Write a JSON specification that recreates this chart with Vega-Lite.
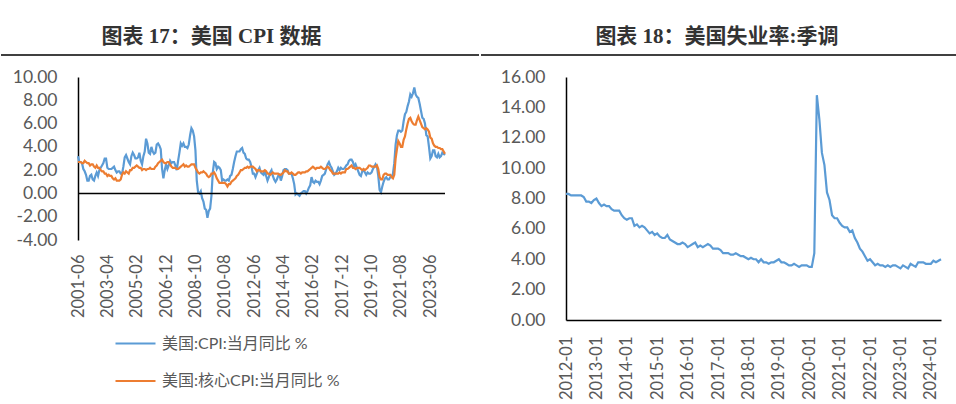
{
  "$schema": "https://vega.github.io/schema/vega-lite/v6.json",
  "padding": {"left": 0, "top": 26, "right": 0, "bottom": 0},
  "background": "white",
  "config": {
    "view": {"stroke": null},
    "font": "Lato",
    "axis": {"labelFont": "Lato", "labelFontSize": 16.5, "labelColor": "#595959", "grid": false, "ticks": false, "title": null, "domainColor": "#000000", "domainWidth": 1.5, "labelOverlap": false},
    "title": {"font": "Liberation Serif, Noto Sans CJK SC", "fontSize": 21, "fontWeight": "bold", "color": "#333333", "offset": 7}
  },
  "datasets": {
    "cpi": [
      {"d":"2001-06","a":3.2,"b":2.7},{"d":"2001-07","a":2.7,"b":2.7},{"d":"2001-08","a":2.7,"b":2.7},{"d":"2001-09","a":2.6,"b":2.6},{"d":"2001-10","a":2.1,"b":2.6},{"d":"2001-11","a":1.9,"b":2.8},{"d":"2001-12","a":1.6,"b":2.7},
      {"d":"2002-01","a":1.1,"b":2.6},{"d":"2002-02","a":1.1,"b":2.6},{"d":"2002-03","a":1.5,"b":2.4},{"d":"2002-04","a":1.6,"b":2.5},{"d":"2002-05","a":1.2,"b":2.5},{"d":"2002-06","a":1.1,"b":2.3},{"d":"2002-07","a":1.5,"b":2.2},{"d":"2002-08","a":1.8,"b":2.4},{"d":"2002-09","a":1.5,"b":2.2},{"d":"2002-10","a":2.0,"b":2.2},{"d":"2002-11","a":2.2,"b":2.0},{"d":"2002-12","a":2.4,"b":1.9},
      {"d":"2003-01","a":2.6,"b":1.9},{"d":"2003-02","a":3.0,"b":1.7},{"d":"2003-03","a":3.0,"b":1.7},{"d":"2003-04","a":2.2,"b":1.5},{"d":"2003-05","a":2.1,"b":1.6},{"d":"2003-06","a":2.1,"b":1.5},{"d":"2003-07","a":2.1,"b":1.5},{"d":"2003-08","a":2.2,"b":1.3},{"d":"2003-09","a":2.3,"b":1.2},{"d":"2003-10","a":2.0,"b":1.3},{"d":"2003-11","a":1.8,"b":1.1},{"d":"2003-12","a":1.9,"b":1.1},
      {"d":"2004-01","a":1.9,"b":1.1},{"d":"2004-02","a":1.7,"b":1.2},{"d":"2004-03","a":1.7,"b":1.6},{"d":"2004-04","a":2.3,"b":1.8},{"d":"2004-05","a":3.1,"b":1.7},{"d":"2004-06","a":3.3,"b":1.9},{"d":"2004-07","a":3.0,"b":1.8},{"d":"2004-08","a":2.7,"b":1.7},{"d":"2004-09","a":2.5,"b":2.0},{"d":"2004-10","a":3.2,"b":2.0},{"d":"2004-11","a":3.5,"b":2.2},{"d":"2004-12","a":3.3,"b":2.2},
      {"d":"2005-01","a":3.0,"b":2.3},{"d":"2005-02","a":3.0,"b":2.4},{"d":"2005-03","a":3.1,"b":2.3},{"d":"2005-04","a":3.5,"b":2.2},{"d":"2005-05","a":2.8,"b":2.2},{"d":"2005-06","a":2.5,"b":2.0},{"d":"2005-07","a":3.2,"b":2.1},{"d":"2005-08","a":3.6,"b":2.1},{"d":"2005-09","a":4.7,"b":2.0},{"d":"2005-10","a":4.3,"b":2.1},{"d":"2005-11","a":3.5,"b":2.1},{"d":"2005-12","a":3.4,"b":2.2},
      {"d":"2006-01","a":4.0,"b":2.1},{"d":"2006-02","a":3.6,"b":2.1},{"d":"2006-03","a":3.4,"b":2.1},{"d":"2006-04","a":3.5,"b":2.3},{"d":"2006-05","a":4.2,"b":2.4},{"d":"2006-06","a":4.3,"b":2.6},{"d":"2006-07","a":4.1,"b":2.7},{"d":"2006-08","a":3.8,"b":2.8},{"d":"2006-09","a":2.1,"b":2.9},{"d":"2006-10","a":1.3,"b":2.7},{"d":"2006-11","a":2.0,"b":2.6},{"d":"2006-12","a":2.5,"b":2.6},
      {"d":"2007-01","a":2.1,"b":2.7},{"d":"2007-02","a":2.4,"b":2.7},{"d":"2007-03","a":2.8,"b":2.5},{"d":"2007-04","a":2.6,"b":2.3},{"d":"2007-05","a":2.7,"b":2.2},{"d":"2007-06","a":2.7,"b":2.2},{"d":"2007-07","a":2.4,"b":2.2},{"d":"2007-08","a":2.0,"b":2.1},{"d":"2007-09","a":2.8,"b":2.1},{"d":"2007-10","a":3.5,"b":2.2},{"d":"2007-11","a":4.3,"b":2.3},{"d":"2007-12","a":4.1,"b":2.4},
      {"d":"2008-01","a":4.3,"b":2.5},{"d":"2008-02","a":4.0,"b":2.3},{"d":"2008-03","a":4.0,"b":2.4},{"d":"2008-04","a":3.9,"b":2.3},{"d":"2008-05","a":4.2,"b":2.3},{"d":"2008-06","a":5.0,"b":2.4},{"d":"2008-07","a":5.6,"b":2.5},{"d":"2008-08","a":5.4,"b":2.5},{"d":"2008-09","a":4.9,"b":2.5},{"d":"2008-10","a":3.7,"b":2.2},{"d":"2008-11","a":1.1,"b":2.0},{"d":"2008-12","a":0.1,"b":1.8},
      {"d":"2009-01","a":0.0,"b":1.7},{"d":"2009-02","a":0.2,"b":1.8},{"d":"2009-03","a":-0.4,"b":1.8},{"d":"2009-04","a":-0.7,"b":1.9},{"d":"2009-05","a":-1.3,"b":1.8},{"d":"2009-06","a":-1.4,"b":1.7},{"d":"2009-07","a":-2.1,"b":1.5},{"d":"2009-08","a":-1.5,"b":1.4},{"d":"2009-09","a":-1.3,"b":1.5},{"d":"2009-10","a":-0.2,"b":1.7},{"d":"2009-11","a":1.8,"b":1.7},{"d":"2009-12","a":2.7,"b":1.8},
      {"d":"2010-01","a":2.6,"b":1.6},{"d":"2010-02","a":2.1,"b":1.3},{"d":"2010-03","a":2.3,"b":1.1},{"d":"2010-04","a":2.2,"b":0.9},{"d":"2010-05","a":2.0,"b":0.9},{"d":"2010-06","a":1.1,"b":0.9},{"d":"2010-07","a":1.2,"b":0.9},{"d":"2010-08","a":1.1,"b":0.9},{"d":"2010-09","a":1.1,"b":0.8},{"d":"2010-10","a":1.2,"b":0.6},{"d":"2010-11","a":1.1,"b":0.8},{"d":"2010-12","a":1.5,"b":0.8},
      {"d":"2011-01","a":1.6,"b":1.0},{"d":"2011-02","a":2.1,"b":1.1},{"d":"2011-03","a":2.7,"b":1.2},{"d":"2011-04","a":3.2,"b":1.3},{"d":"2011-05","a":3.6,"b":1.5},{"d":"2011-06","a":3.6,"b":1.6},{"d":"2011-07","a":3.6,"b":1.8},{"d":"2011-08","a":3.8,"b":2.0},{"d":"2011-09","a":3.9,"b":2.0},{"d":"2011-10","a":3.5,"b":2.1},{"d":"2011-11","a":3.4,"b":2.2},{"d":"2011-12","a":3.0,"b":2.2},
      {"d":"2012-01","a":2.9,"b":2.3},{"d":"2012-02","a":2.9,"b":2.2},{"d":"2012-03","a":2.7,"b":2.3},{"d":"2012-04","a":2.3,"b":2.3},{"d":"2012-05","a":1.7,"b":2.3},{"d":"2012-06","a":1.7,"b":2.2},{"d":"2012-07","a":1.4,"b":2.1},{"d":"2012-08","a":1.7,"b":1.9},{"d":"2012-09","a":2.0,"b":2.0},{"d":"2012-10","a":2.2,"b":2.0},{"d":"2012-11","a":1.8,"b":1.9},{"d":"2012-12","a":1.7,"b":1.9},
      {"d":"2013-01","a":1.6,"b":1.9},{"d":"2013-02","a":2.0,"b":2.0},{"d":"2013-03","a":1.5,"b":1.9},{"d":"2013-04","a":1.1,"b":1.7},{"d":"2013-05","a":1.4,"b":1.7},{"d":"2013-06","a":1.8,"b":1.6},{"d":"2013-07","a":2.0,"b":1.7},{"d":"2013-08","a":1.5,"b":1.8},{"d":"2013-09","a":1.2,"b":1.7},{"d":"2013-10","a":1.0,"b":1.7},{"d":"2013-11","a":1.2,"b":1.7},{"d":"2013-12","a":1.5,"b":1.7},
      {"d":"2014-01","a":1.6,"b":1.6},{"d":"2014-02","a":1.1,"b":1.6},{"d":"2014-03","a":1.5,"b":1.7},{"d":"2014-04","a":2.0,"b":1.8},{"d":"2014-05","a":2.1,"b":2.0},{"d":"2014-06","a":2.1,"b":1.9},{"d":"2014-07","a":2.0,"b":1.9},{"d":"2014-08","a":1.7,"b":1.7},{"d":"2014-09","a":1.7,"b":1.7},{"d":"2014-10","a":1.7,"b":1.8},{"d":"2014-11","a":1.3,"b":1.7},{"d":"2014-12","a":0.8,"b":1.6},
      {"d":"2015-01","a":-0.1,"b":1.6},{"d":"2015-02","a":0.0,"b":1.7},{"d":"2015-03","a":-0.1,"b":1.8},{"d":"2015-04","a":-0.2,"b":1.8},{"d":"2015-05","a":0.0,"b":1.7},{"d":"2015-06","a":0.1,"b":1.8},{"d":"2015-07","a":0.2,"b":1.8},{"d":"2015-08","a":0.2,"b":1.8},{"d":"2015-09","a":0.0,"b":1.9},{"d":"2015-10","a":0.2,"b":1.9},{"d":"2015-11","a":0.5,"b":2.0},{"d":"2015-12","a":0.7,"b":2.1},
      {"d":"2016-01","a":1.4,"b":2.2},{"d":"2016-02","a":1.0,"b":2.3},{"d":"2016-03","a":0.9,"b":2.2},{"d":"2016-04","a":1.1,"b":2.1},{"d":"2016-05","a":1.0,"b":2.2},{"d":"2016-06","a":1.0,"b":2.2},{"d":"2016-07","a":0.8,"b":2.2},{"d":"2016-08","a":1.1,"b":2.3},{"d":"2016-09","a":1.5,"b":2.2},{"d":"2016-10","a":1.6,"b":2.1},{"d":"2016-11","a":1.7,"b":2.1},{"d":"2016-12","a":2.1,"b":2.2},
      {"d":"2017-01","a":2.5,"b":2.3},{"d":"2017-02","a":2.7,"b":2.2},{"d":"2017-03","a":2.4,"b":2.0},{"d":"2017-04","a":2.2,"b":1.9},{"d":"2017-05","a":1.9,"b":1.7},{"d":"2017-06","a":1.6,"b":1.7},{"d":"2017-07","a":1.7,"b":1.7},{"d":"2017-08","a":1.9,"b":1.7},{"d":"2017-09","a":2.2,"b":1.7},{"d":"2017-10","a":2.0,"b":1.8},{"d":"2017-11","a":2.2,"b":1.7},{"d":"2017-12","a":2.1,"b":1.8},
      {"d":"2018-01","a":2.1,"b":1.8},{"d":"2018-02","a":2.2,"b":1.8},{"d":"2018-03","a":2.4,"b":2.1},{"d":"2018-04","a":2.5,"b":2.1},{"d":"2018-05","a":2.8,"b":2.2},{"d":"2018-06","a":2.9,"b":2.3},{"d":"2018-07","a":2.9,"b":2.4},{"d":"2018-08","a":2.7,"b":2.2},{"d":"2018-09","a":2.3,"b":2.2},{"d":"2018-10","a":2.5,"b":2.1},{"d":"2018-11","a":2.2,"b":2.2},{"d":"2018-12","a":1.9,"b":2.2},
      {"d":"2019-01","a":1.6,"b":2.2},{"d":"2019-02","a":1.5,"b":2.1},{"d":"2019-03","a":1.9,"b":2.0},{"d":"2019-04","a":2.0,"b":2.1},{"d":"2019-05","a":1.8,"b":2.0},{"d":"2019-06","a":1.6,"b":2.1},{"d":"2019-07","a":1.8,"b":2.2},{"d":"2019-08","a":1.7,"b":2.4},{"d":"2019-09","a":1.7,"b":2.4},{"d":"2019-10","a":1.8,"b":2.3},{"d":"2019-11","a":2.1,"b":2.3},{"d":"2019-12","a":2.3,"b":2.3},
      {"d":"2020-01","a":2.5,"b":2.3},{"d":"2020-02","a":2.3,"b":2.4},{"d":"2020-03","a":1.5,"b":2.1},{"d":"2020-04","a":0.3,"b":1.4},{"d":"2020-05","a":0.1,"b":1.2},{"d":"2020-06","a":0.6,"b":1.2},{"d":"2020-07","a":1.0,"b":1.6},{"d":"2020-08","a":1.3,"b":1.7},{"d":"2020-09","a":1.4,"b":1.7},{"d":"2020-10","a":1.2,"b":1.6},{"d":"2020-11","a":1.2,"b":1.6},{"d":"2020-12","a":1.4,"b":1.6},
      {"d":"2021-01","a":1.4,"b":1.4},{"d":"2021-02","a":1.7,"b":1.3},{"d":"2021-03","a":2.6,"b":1.6},{"d":"2021-04","a":4.2,"b":3.0},{"d":"2021-05","a":5.0,"b":3.8},{"d":"2021-06","a":5.4,"b":4.5},{"d":"2021-07","a":5.4,"b":4.3},{"d":"2021-08","a":5.3,"b":4.0},{"d":"2021-09","a":5.4,"b":4.0},{"d":"2021-10","a":6.2,"b":4.6},{"d":"2021-11","a":6.8,"b":4.9},{"d":"2021-12","a":7.0,"b":5.5},
      {"d":"2022-01","a":7.5,"b":6.0},{"d":"2022-02","a":7.9,"b":6.4},{"d":"2022-03","a":8.5,"b":6.5},{"d":"2022-04","a":8.3,"b":6.2},{"d":"2022-05","a":8.6,"b":6.0},{"d":"2022-06","a":9.1,"b":5.9},{"d":"2022-07","a":8.5,"b":5.9},{"d":"2022-08","a":8.3,"b":6.3},{"d":"2022-09","a":8.2,"b":6.6},{"d":"2022-10","a":7.7,"b":6.3},{"d":"2022-11","a":7.1,"b":6.0},{"d":"2022-12","a":6.5,"b":5.7},
      {"d":"2023-01","a":6.4,"b":5.6},{"d":"2023-02","a":6.0,"b":5.5},{"d":"2023-03","a":5.0,"b":5.6},{"d":"2023-04","a":4.9,"b":5.5},{"d":"2023-05","a":4.0,"b":5.3},{"d":"2023-06","a":3.0,"b":4.8},{"d":"2023-07","a":3.2,"b":4.7},{"d":"2023-08","a":3.7,"b":4.3},{"d":"2023-09","a":3.7,"b":4.1},{"d":"2023-10","a":3.2,"b":4.0},{"d":"2023-11","a":3.1,"b":4.0},{"d":"2023-12","a":3.4,"b":3.9},
      {"d":"2024-01","a":3.1,"b":3.9},{"d":"2024-02","a":3.2,"b":3.8},{"d":"2024-03","a":3.5,"b":3.8},{"d":"2024-04","a":3.4,"b":3.6},{"d":"2024-05","a":3.3,"b":3.4}
    ],
    "ur": [
      {"d":"2012-01","u":8.3},{"d":"2012-02","u":8.3},{"d":"2012-03","u":8.2},{"d":"2012-04","u":8.2},{"d":"2012-05","u":8.2},{"d":"2012-06","u":8.2},{"d":"2012-07","u":8.2},{"d":"2012-08","u":8.1},{"d":"2012-09","u":7.8},{"d":"2012-10","u":7.8},{"d":"2012-11","u":7.7},{"d":"2012-12","u":7.9},
      {"d":"2013-01","u":8.0},{"d":"2013-02","u":7.7},{"d":"2013-03","u":7.5},{"d":"2013-04","u":7.6},{"d":"2013-05","u":7.5},{"d":"2013-06","u":7.5},{"d":"2013-07","u":7.3},{"d":"2013-08","u":7.2},{"d":"2013-09","u":7.2},{"d":"2013-10","u":7.2},{"d":"2013-11","u":6.9},{"d":"2013-12","u":6.7},
      {"d":"2014-01","u":6.6},{"d":"2014-02","u":6.7},{"d":"2014-03","u":6.7},{"d":"2014-04","u":6.2},{"d":"2014-05","u":6.3},{"d":"2014-06","u":6.1},{"d":"2014-07","u":6.2},{"d":"2014-08","u":6.1},{"d":"2014-09","u":5.9},{"d":"2014-10","u":5.7},{"d":"2014-11","u":5.8},{"d":"2014-12","u":5.6},
      {"d":"2015-01","u":5.7},{"d":"2015-02","u":5.5},{"d":"2015-03","u":5.4},{"d":"2015-04","u":5.4},{"d":"2015-05","u":5.6},{"d":"2015-06","u":5.3},{"d":"2015-07","u":5.2},{"d":"2015-08","u":5.1},{"d":"2015-09","u":5.0},{"d":"2015-10","u":5.0},{"d":"2015-11","u":5.1},{"d":"2015-12","u":5.0},
      {"d":"2016-01","u":4.8},{"d":"2016-02","u":4.9},{"d":"2016-03","u":5.0},{"d":"2016-04","u":5.1},{"d":"2016-05","u":4.8},{"d":"2016-06","u":4.9},{"d":"2016-07","u":4.8},{"d":"2016-08","u":4.9},{"d":"2016-09","u":5.0},{"d":"2016-10","u":4.9},{"d":"2016-11","u":4.7},{"d":"2016-12","u":4.7},
      {"d":"2017-01","u":4.7},{"d":"2017-02","u":4.6},{"d":"2017-03","u":4.4},{"d":"2017-04","u":4.4},{"d":"2017-05","u":4.4},{"d":"2017-06","u":4.3},{"d":"2017-07","u":4.3},{"d":"2017-08","u":4.4},{"d":"2017-09","u":4.3},{"d":"2017-10","u":4.2},{"d":"2017-11","u":4.2},{"d":"2017-12","u":4.1},
      {"d":"2018-01","u":4.0},{"d":"2018-02","u":4.1},{"d":"2018-03","u":4.0},{"d":"2018-04","u":4.0},{"d":"2018-05","u":3.8},{"d":"2018-06","u":4.0},{"d":"2018-07","u":3.8},{"d":"2018-08","u":3.8},{"d":"2018-09","u":3.7},{"d":"2018-10","u":3.8},{"d":"2018-11","u":3.8},{"d":"2018-12","u":3.9},
      {"d":"2019-01","u":4.0},{"d":"2019-02","u":3.8},{"d":"2019-03","u":3.8},{"d":"2019-04","u":3.7},{"d":"2019-05","u":3.6},{"d":"2019-06","u":3.6},{"d":"2019-07","u":3.7},{"d":"2019-08","u":3.6},{"d":"2019-09","u":3.5},{"d":"2019-10","u":3.6},{"d":"2019-11","u":3.6},{"d":"2019-12","u":3.6},
      {"d":"2020-01","u":3.5},{"d":"2020-02","u":3.5},{"d":"2020-03","u":4.4},{"d":"2020-04","u":14.8},{"d":"2020-05","u":13.2},{"d":"2020-06","u":11.0},{"d":"2020-07","u":10.2},{"d":"2020-08","u":8.4},{"d":"2020-09","u":7.9},{"d":"2020-10","u":6.9},{"d":"2020-11","u":6.7},{"d":"2020-12","u":6.7},
      {"d":"2021-01","u":6.4},{"d":"2021-02","u":6.2},{"d":"2021-03","u":6.1},{"d":"2021-04","u":6.1},{"d":"2021-05","u":5.8},{"d":"2021-06","u":5.9},{"d":"2021-07","u":5.4},{"d":"2021-08","u":5.1},{"d":"2021-09","u":4.7},{"d":"2021-10","u":4.5},{"d":"2021-11","u":4.2},{"d":"2021-12","u":3.9},
      {"d":"2022-01","u":4.0},{"d":"2022-02","u":3.8},{"d":"2022-03","u":3.6},{"d":"2022-04","u":3.7},{"d":"2022-05","u":3.6},{"d":"2022-06","u":3.6},{"d":"2022-07","u":3.5},{"d":"2022-08","u":3.6},{"d":"2022-09","u":3.5},{"d":"2022-10","u":3.6},{"d":"2022-11","u":3.6},{"d":"2022-12","u":3.5},
      {"d":"2023-01","u":3.4},{"d":"2023-02","u":3.6},{"d":"2023-03","u":3.5},{"d":"2023-04","u":3.4},{"d":"2023-05","u":3.7},{"d":"2023-06","u":3.6},{"d":"2023-07","u":3.5},{"d":"2023-08","u":3.8},{"d":"2023-09","u":3.8},{"d":"2023-10","u":3.8},{"d":"2023-11","u":3.7},{"d":"2023-12","u":3.7},
      {"d":"2024-01","u":3.7},{"d":"2024-02","u":3.9},{"d":"2024-03","u":3.8},{"d":"2024-04","u":3.9},{"d":"2024-05","u":4.0}
    ]
  },
  "spacing": 12,
  "vconcat": [
    {
      "spacing": 0,
      "hconcat": [
        {
          "width": 401, "height": 1,
          "title": {"text": "图表 17：美国 CPI 数据", "dx": -67},
          "data": {"values": [{}]},
          "mark": {"type": "rule", "color": "#000000", "strokeWidth": 1.5, "clip": false},
          "encoding": {
            "x": {"datum": -0.192, "type": "quantitative", "scale": {"domain": [0, 1]}, "axis": null},
            "x2": {"datum": 1},
            "y": {"datum": 0, "type": "quantitative", "scale": {"domain": [0, 1]}, "axis": null}
          }
        },
        {
          "width": 478, "height": 1,
          "title": {"text": "图表 18：美国失业率:季调", "dx": -3},
          "data": {"values": [{}]},
          "mark": {"type": "rule", "color": "#000000", "strokeWidth": 1.5},
          "encoding": {
            "x": {"datum": 0, "type": "quantitative", "scale": {"domain": [0, 1]}, "axis": null},
            "x2": {"datum": 1},
            "y": {"datum": 0, "type": "quantitative", "scale": {"domain": [0, 1]}, "axis": null}
          }
        }
      ]
    },
    {
      "spacing": 39,
      "hconcat": [
        {
          "width": 367, "height": 163,
          "layer": [
            {
              "data": {"name": "cpi"},
              "transform": [{"fold": ["a", "b"], "as": ["k", "v"]}],
              "mark": {"type": "line", "strokeWidth": 2.2},
              "encoding": {
                "x": {"field": "d", "type": "ordinal", "scale": {"type": "point", "padding": 0},
                  "axis": {"values": ["2001-06","2003-04","2005-02","2006-12","2008-10","2010-08","2012-06","2014-04","2016-02","2017-12","2019-10","2021-08","2023-06"], "labelAngle": 270, "labelPadding": 14, "domain": false}},
                "y": {"field": "v", "type": "quantitative", "scale": {"domain": [-4, 10]},
                  "axis": {"values": [-4, -2, 0, 2, 4, 6, 8, 10], "labelOverlap": false, "labelFontSize": 17.5, "labelExpr": "replace(format(datum.value, '.2f'), '\u2212', '-')", "labelPadding": 21, "minExtent": 77}},
                "color": {"field": "k", "type": "nominal", "scale": {"domain": ["a", "b"], "range": ["#5B9BD5", "#ED7D31"]},
                  "legend": {"title": null, "orient": "none", "legendX": 36, "legendY": 268, "direction": "vertical", "symbolType": "stroke", "symbolSize": 1600, "symbolStrokeWidth": 2.2, "labelFontSize": 16, "labelFont": "Lato, Noto Sans CJK SC", "labelColor": "#595959", "labelOffset": 5, "labelLimit": 400, "rowPadding": 7.5,
                    "labelExpr": "datum.value == 'a' ? '美国:CPI:当月同比 %' : '美国:核心CPI:当月同比 %'"}}
              }
            },
            {
              "data": {"values": [{}]},
              "mark": {"type": "rule", "color": "#000000", "strokeWidth": 1.5},
              "encoding": {"y": {"datum": 0, "type": "quantitative",
                "axis": {"values": [-4, -2, 0, 2, 4, 6, 8, 10], "labelOverlap": false, "labelFontSize": 17.5, "labelExpr": "replace(format(datum.value, '.2f'), '\u2212', '-')", "labelPadding": 21, "minExtent": 77}}}
            }
          ]
        },
        {
          "width": 375, "height": 243,
          "data": {"name": "ur"},
          "mark": {"type": "line", "color": "#5B9BD5", "strokeWidth": 2.2},
          "encoding": {
            "x": {"field": "d", "type": "ordinal", "scale": {"type": "point", "padding": 0},
              "axis": {"values": ["2012-01","2013-01","2014-01","2015-01","2016-01","2017-01","2018-01","2019-01","2020-01","2021-01","2022-01","2023-01","2024-01"], "labelAngle": 270, "labelPadding": 16}},
            "y": {"field": "u", "type": "quantitative", "scale": {"domain": [0, 16]},
              "axis": {"values": [0, 2, 4, 6, 8, 10, 12, 14, 16], "labelFontSize": 17.5, "format": ".2f", "labelPadding": 21, "minExtent": 77}}
          }
        }
      ]
    }
  ]
}
